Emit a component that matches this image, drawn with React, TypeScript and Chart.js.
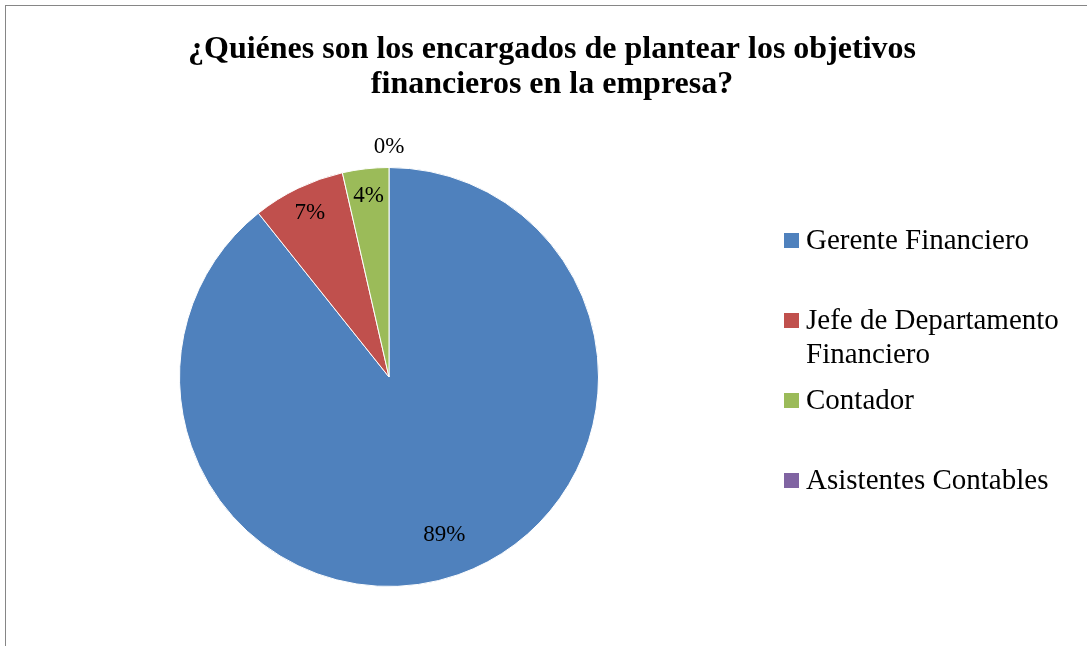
import React, { useEffect, useRef } from "react";
import { Chart, registerables } from "chart.js";

Chart.register(...registerables);

const TITLE_LINES = [
  "¿Quiénes son los encargados de plantear los objetivos",
  "financieros en la empresa?",
];
const CATEGORIES = [
  "Gerente Financiero",
  "Jefe de Departamento Financiero",
  "Contador",
  "Asistentes Contables",
];
const COUNTS = [25, 2, 1, 0];
const COLORS = ["#4F81BD", "#C0504D", "#9BBB59", "#8064A2"];

const FONT = "'Liberation Serif', 'Times New Roman', serif";

function wrapText(ctx: CanvasRenderingContext2D, text: string, maxW: number): string[] {
  const words = text.split(" ");
  const lines: string[] = [];
  let cur = "";
  for (const w of words) {
    const test = cur ? cur + " " + w : w;
    if (ctx.measureText(test).width > maxW && cur) {
      lines.push(cur);
      cur = w;
    } else cur = test;
  }
  if (cur) lines.push(cur);
  return lines;
}

const decorPlugin = {
  id: "decor",
  beforeDraw(chart: any) {
    const ctx = chart.ctx as CanvasRenderingContext2D;
    ctx.save();
    ctx.fillStyle = "#ffffff";
    ctx.fillRect(0, 0, chart.width, chart.height);
    ctx.strokeStyle = "#868686";
    ctx.lineWidth = 1;
    ctx.strokeRect(5.5, 5.5, chart.width + 20, chart.height + 20);
    ctx.restore();
  },
  afterDraw(chart: any) {
    const ctx = chart.ctx as CanvasRenderingContext2D;
    ctx.save();
    // title
    ctx.fillStyle = "#000000";
    ctx.font = `bold 32px ${FONT}`;
    ctx.textAlign = "center";
    ctx.textBaseline = "alphabetic";
    TITLE_LINES.forEach((t, i) => ctx.fillText(t, 552, 58 + i * 35));

    // data labels
    const meta = chart.getDatasetMeta(0);
    const data = chart.data.datasets[0].data as number[];
    const total = data.reduce((a, b) => a + b, 0);
    ctx.font = `23px ${FONT}`;
    ctx.textBaseline = "middle";
    meta.data.forEach((arc: any, i: number) => {
      const p = arc.getProps(["x", "y", "startAngle", "endAngle", "outerRadius"], true);
      const mid = (p.startAngle + p.endAngle) / 2;
      const pct = (data[i] / total) * 100;
      const ratio = data[i] === 0 ? 1.1 : pct > 50 ? 0.8 : 0.87;
      const lx = p.x + Math.cos(mid) * p.outerRadius * ratio;
      const ly = p.y + Math.sin(mid) * p.outerRadius * ratio;
      ctx.fillText(Math.round(pct) + "%", lx, ly);
    });

    // legend
    ctx.textAlign = "left";
    ctx.textBaseline = "alphabetic";
    ctx.font = `29px ${FONT}`;
    const labels = chart.data.labels as string[];
    labels.forEach((lab, i) => {
      const base = 249 + i * 80;
      ctx.fillStyle = COLORS[i];
      ctx.fillRect(784, base - 16, 15, 15);
      ctx.fillStyle = "#000000";
      const lines = wrapText(ctx, lab, 275);
      lines.forEach((ln, j) => ctx.fillText(ln, 806, base + j * 34));
    });
    ctx.restore();
  },
};

export default function App() {
  const ref = useRef<HTMLCanvasElement>(null);
  useEffect(() => {
    if (!ref.current) return;
    const chart = new Chart(ref.current, {
      type: "pie",
      data: {
        labels: CATEGORIES,
        datasets: [
          {
            data: COUNTS,
            backgroundColor: COLORS,
            borderColor: "#ffffff",
            borderWidth: 1,
          },
        ],
      },
      options: {
        responsive: false,
        animation: false,
        devicePixelRatio: 1,
        layout: { padding: { left: 179, right: 488, top: 167, bottom: 59 } },
        plugins: {
          legend: { display: false },
          title: { display: false },
          tooltip: { enabled: false },
        },
      },
      plugins: [decorPlugin],
    });
    return () => chart.destroy();
  }, []);
  return (
    <div style={{ position: "absolute", left: 0, top: 0, width: 1087, height: 646 }}>
      <canvas ref={ref} width={1087} height={646} />
    </div>
  );
}
